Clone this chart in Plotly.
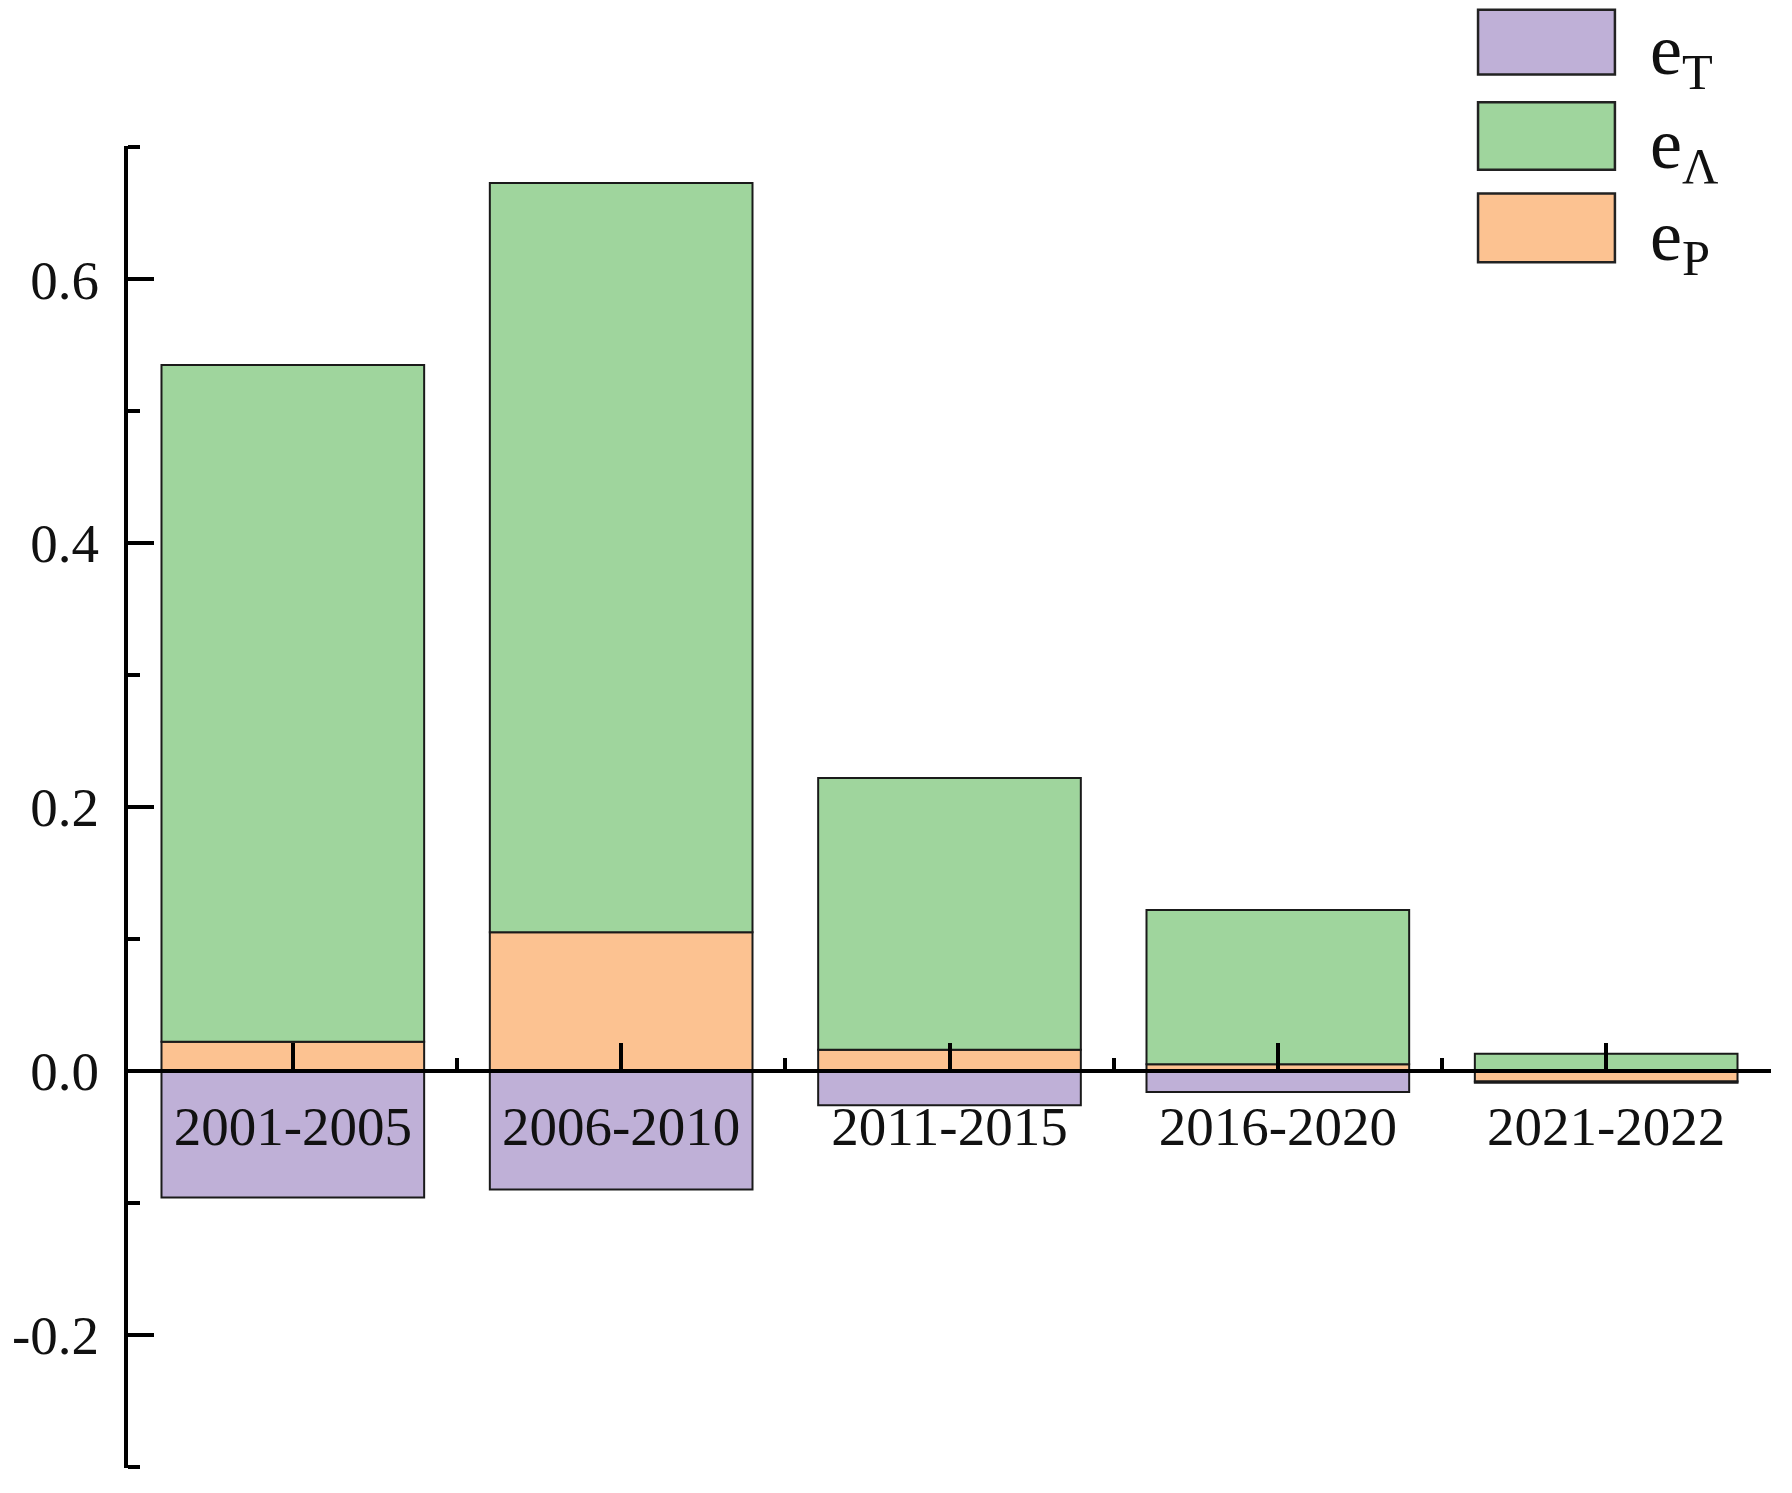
import plotly.graph_objects as go

# Datos
periodos = ['2001-2005', '2006-2010', '2011-2015', '2016-2020', '2021-2022']
e_P = [0.022, 0.105, 0.016, 0.005, -0.008]
e_A = [0.513, 0.568, 0.206, 0.117, 0.013]
e_T = [-0.096, -0.090, -0.026, -0.016, -0.001]

y_ticks = [-0.2, 0.0, 0.2, 0.4, 0.6]
y_ticktext = ['-0.2', '0.0', '0.2', '0.4', '0.6']

series = [('e<sub>P</sub>', e_P, '#FCC291'),
          ('e<sub>Λ</sub>', e_A, '#9FD59D'),
          ('e<sub>T</sub>', e_T, '#BFB0D7')]

fuente = 'Times New Roman, Liberation Serif, serif'
x_pos = list(range(len(periodos)))

fig = go.Figure()
for nombre, valores, color in series:
    fig.add_trace(go.Bar(
        x=x_pos,
        y=valores,
        name=nombre,
        width=0.8,
        marker=dict(color=color, line=dict(color='#1a1a1a', width=2)),
        showlegend=False
    ))

# Leyenda dibujada a mano (cajas grandes como en el original)
cajas = [(1.103, 1.054), (1.033, 0.982), (0.964, 0.912)]
for (y1, y0), (nombre, _, color) in zip(cajas, series[::-1]):
    fig.add_shape(type='rect', xref='paper', yref='paper',
                  x0=0.8217, x1=0.905, y0=y0, y1=y1,
                  fillcolor=color, line=dict(color='#222222', width=2.5))
    fig.add_annotation(xref='paper', yref='paper', x=0.925, y=(y0 + y1) / 2 - 0.01,
                       xanchor='left', yanchor='middle', showarrow=False,
                       text=nombre, font=dict(family=fuente, size=72, color='#111111'))

# el body del html tiene 8 px de margen, se compensa aqui
fig.update_layout(
    width=1792,
    height=1493,
    margin=dict(l=120, r=29, t=138, b=33, autoexpand=False),
    paper_bgcolor='white',
    plot_bgcolor='white',
    barmode='relative',
    font=dict(family=fuente, size=55, color='#111111'),
    xaxis=dict(
        range=[-0.502, 4.502],
        tickmode='array',
        tickvals=x_pos,
        ticktext=periodos,
        anchor='free',
        position=0.3,
        automargin=False,
        showline=True,
        linecolor='black',
        linewidth=4,
        ticks='inside',
        ticklen=26,
        tickwidth=3.5,
        tickcolor='black',
        minor=dict(tickmode='linear', tick0=0.5, dtick=1, ticks='inside',
                   ticklen=11, tickwidth=3.5, tickcolor='black'),
        showgrid=False,
        zeroline=False,
        ticklabelstandoff=6
    ),
    yaxis=dict(
        range=[-0.301, 0.701],
        tickmode='array',
        tickvals=y_ticks,
        ticktext=y_ticktext,
        automargin=False,
        showline=True,
        linecolor='black',
        linewidth=4,
        ticks='inside',
        ticklen=26,
        tickwidth=3.5,
        tickcolor='black',
        minor=dict(tickmode='linear', tick0=0.1, dtick=0.1, ticks='inside',
                   ticklen=12, tickwidth=3.5, tickcolor='black'),
        showgrid=False,
        zeroline=False,
        ticklabelstandoff=14
    )
)

fig.write_html('out.html')
